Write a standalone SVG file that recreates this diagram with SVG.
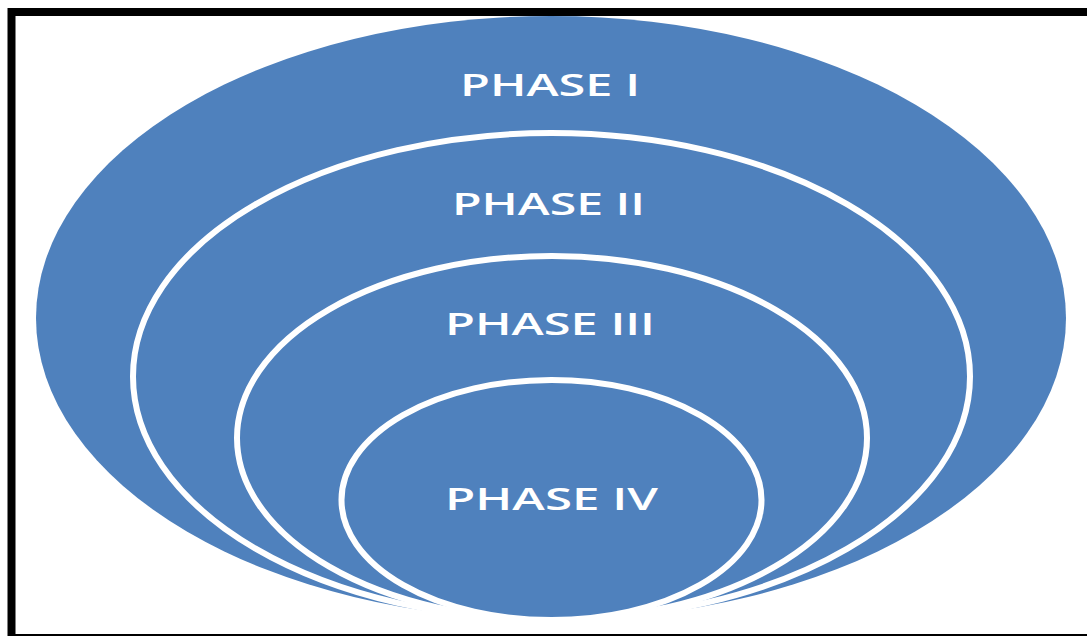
<svg xmlns="http://www.w3.org/2000/svg" width="1087" height="636" viewBox="0 0 1087 636">
<style>
.ring{fill:#4F81BD;stroke:#FFFFFF;stroke-width:6}
.lbl{fill:#FFFFFF;font-family:"Open Sans","Liberation Sans",sans-serif;font-weight:600;font-size:31px;text-anchor:middle}
</style>
<rect x="0" y="0" width="1087" height="636" fill="#FFFFFF"/>
<g id="phase1">
<ellipse cx="551" cy="318" rx="515" ry="302" fill="#4F81BD"/>
<text class="lbl" x="550" y="96" textLength="180" lengthAdjust="spacingAndGlyphs">PHASE I</text>
</g>
<g id="phase2">
<ellipse class="ring" cx="551.5" cy="376.5" rx="418.5" ry="243.5"/>
<text class="lbl" x="548.5" y="215" textLength="193" lengthAdjust="spacingAndGlyphs">PHASE II</text>
</g>
<g id="phase3">
<ellipse class="ring" cx="552" cy="438" rx="315" ry="182"/>
<text class="lbl" x="550" y="335" textLength="210" lengthAdjust="spacingAndGlyphs">PHASE III</text>
</g>
<g id="phase4">
<ellipse class="ring" cx="551.5" cy="500" rx="210" ry="120"/>
<text class="lbl" x="551.5" y="510" textLength="213" lengthAdjust="spacingAndGlyphs">PHASE IV</text>
</g>
<g id="connectors"></g>
<rect x="11.5" y="12" width="1090" height="626" fill="none" stroke="#000000" stroke-width="8"/>
</svg>
